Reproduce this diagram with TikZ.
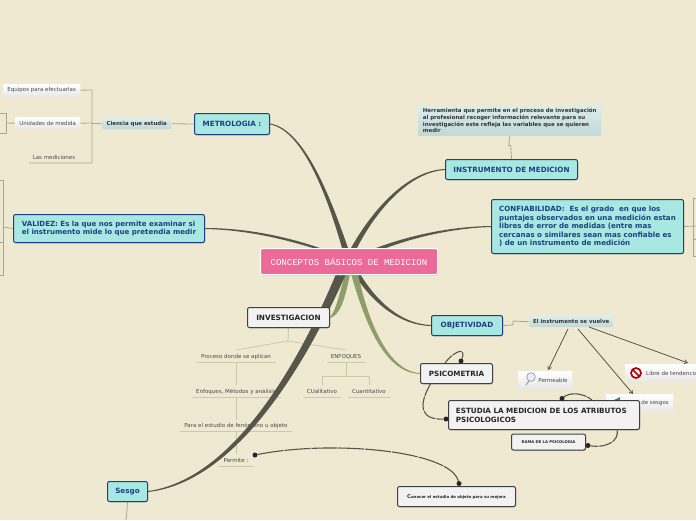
\documentclass[tikz,border=0pt]{standalone}
\usepackage{fontspec}
\setmainfont{DejaVu Sans}
\newfontfamily\monof{Liberation Mono}
\usetikzlibrary{arrows.meta,shadows}
\pgfdeclarelayer{bglayer}
\pgfdeclarelayer{treelayer}
\pgfdeclarelayer{branchlayer}
\pgfsetlayers{bglayer,treelayer,branchlayer,main}
\definecolor{bg}{HTML}{F0E9D2}
\definecolor{teal}{HTML}{A8E8E2}
\definecolor{navy}{HTML}{1E3F80}
\definecolor{pinkr}{HTML}{EC6A98}
\definecolor{branch}{HTML}{57564A}
\definecolor{ogreen}{HTML}{8D9E68}
\definecolor{lgreen}{HTML}{C8CBA6}
\definecolor{lgrey}{HTML}{A9A594}
\definecolor{paleb}{HTML}{CDE6E4}
\definecolor{ltxt}{HTML}{484848}
\tikzset{x=1pt,y=-1pt,
 box/.style={draw,rounded corners=2pt,line width=1pt,anchor=north west,inner sep=0pt,
   drop shadow={shadow xshift=0.6pt,shadow yshift=-0.8pt,fill=black!45,opacity=.6}},
 mainbox/.style={box,draw=navy,fill=teal,text=navy,font=\bfseries\fontsize{7.2}{9}\selectfont,align=left},
 subbox/.style={box,draw=black!75,fill=black!5,text=black!85,font=\bfseries\fontsize{7.2}{8.9}\selectfont,align=left},
 pale/.style={anchor=north west,inner sep=0pt,top color=paleb!70!white,bottom color=paleb!94!black,rounded corners=1pt,text=black!80,font=\bfseries\fontsize{5.45}{6.7}\selectfont,align=left},
 leaf/.style={anchor=center,inner sep=0pt,text=ltxt,font=\fontsize{5.5}{6.5}\selectfont},
 white leaf/.style={anchor=north west,inner sep=0pt,top color=white,bottom color=black!9,text=ltxt,font=\fontsize{5.5}{6.5}\selectfont},
 thin line/.style={draw=lgrey,line width=.8pt},
 green line/.style={draw=lgreen,line width=.8pt},
 under/.style={draw=lgreen,line width=.7pt},
 rel/.style={draw=branch,line width=1.1pt,dash pattern=on 26pt off 1pt},
 dot/.style={circle,fill=black!85,inner sep=0pt,minimum size=5pt},
 arr/.style={draw=branch,line width=.8pt,-{Straight Barb[length=3pt,width=4pt]}},
}
\begin{document}
\begin{tikzpicture}
\begin{pgfonlayer}{bglayer}
\fill[bg] (0,0) rectangle (696,520);
\end{pgfonlayer}
\useasboundingbox (0,0) rectangle (696,520);
% nodes
\node[box,draw=white,fill=pinkr,text=white,font=\monof\fontsize{9}{10}\selectfont,minimum width=177pt,minimum height=26pt] (root) at (260,248) {CONCEPTOS BÁSICOS DE MEDICION};
\node[mainbox,minimum width=75pt,minimum height=21pt,align=center] (metro) at (194,113) {METROLOGIA :};
\node[mainbox,minimum width=191pt,minimum height=28pt,font=\bfseries\fontsize{7.05}{8.2}\selectfont] (valid) at (13,214) {VALIDEZ: Es la que nos permite examinar si\\el instrumento mide lo que pretendia medir};
\node[mainbox,minimum width=132pt,minimum height=20pt,align=center] (instr) at (445,159) {INSTRUMENTO DE MEDICION};
\node[mainbox,minimum width=192pt,minimum height=54pt,font=\bfseries\fontsize{7.1}{8.6}\selectfont] (conf) at (491,199) {CONFIABILIDAD:\ \ Es el grado\ \ en que los\\puntajes observados en una medición estan\\libres de error de medidas (entre mas\\cercanas o similares sean mas confiable es\\) de un instrumento de medición};
\node[mainbox,minimum width=71pt,minimum height=20pt,align=center] (objet) at (431,315) {OBJETIVIDAD};
\node[subbox,minimum width=82pt,minimum height=20pt,align=center,font=\bfseries\fontsize{7.3}{9}\selectfont] (inves) at (247,307) {INVESTIGACION};
\node[subbox,minimum width=72pt,minimum height=20pt,align=center] (psico) at (420,363) {PSICOMETRIA};
\node[mainbox,minimum width=40pt,minimum height=20pt,align=center] (sesgo) at (107,481) {Sesgo};
\node[pale,minimum width=183pt,minimum height=31pt] (herr) at (418,105) {Herramienta que permite en el proceso de investigación\\al profesional recoger información relevante para su\\investigación este refleja las variables que se quieren\\medir\hspace*{152pt}};
\node[pale,minimum width=69pt,minimum height=11pt,align=center] (cien) at (102,118) {Ciencia que estudia};
\node[pale,minimum width=84pt,minimum height=11pt,align=center] (elin) at (529,316) {El instrumento se vuelve};
\node[white leaf,minimum width=77pt,minimum height=12pt,align=center] (equi) at (3,84) {\raisebox{-1pt}{Equipos para efectuarlas}};
\node[white leaf,minimum width=65pt,minimum height=12pt,align=center] (unid) at (15,117) {\raisebox{-.8pt}{Unidades de medida}};
\node[leaf] (medi) at (54,157.6) {Las mediciones};
\coordinate (medir) at (92,163);
% small cut-off boxes
\draw[thin line] (0,113) -- (6,113) -- (6,133) -- (0,133);
\draw[thin line] (6,123) -- (unid.west);
\draw[thin line] (0,180) -- (3,180) -- (3,275) -- (0,275);
\draw[thin line] (0,242.5) -- (3,242.5);
\draw[thin line] (3,227) -- (valid.west);
\draw[thin line] (696,198) -- (693.5,198) -- (693.5,256) -- (696,256);
\draw[thin line] (693.5,239) -- (696,239);
\draw[thin line] (conf.east) -- (696,226);
% tapered branches
\begin{pgfonlayer}{branchlayer}
\fill[branch] (348,248) .. controls (333,205) and (306,129) .. ([yshift=.5pt]metro.east) -- ([yshift=-.5pt]metro.east) .. controls (305,130.5) and (330,206) .. (342,248) -- cycle;
\fill[branch] (320,248) .. controls (290,238) and (250,228) .. ([yshift=.5pt]valid.east) -- ([yshift=-.5pt]valid.east) .. controls (250,230) and (288,240.5) .. (313,248) -- cycle;
\fill[branch] (357,248) .. controls (373,216) and (407,172) .. ([yshift=-.5pt]instr.west) -- ([yshift=.5pt]instr.west) .. controls (405,170.5) and (370,214) .. (351,248) -- cycle;
\fill[branch] (386,248) .. controls (420,235.5) and (457,228) .. ([yshift=-.5pt]conf.west) -- ([yshift=.5pt]conf.west) .. controls (455,226.5) and (415,233.5) .. (376,248) -- cycle;
\fill[branch] (360,274) .. controls (376,300) and (400,324) .. ([yshift=.5pt]objet.west) -- ([yshift=-.5pt]objet.west) .. controls (399,325.5) and (372,302) .. (354,274) -- cycle;
\fill[ogreen] (350,274) .. controls (345,300) and (340,315) .. ([yshift=-.5pt]inves.east) -- ([yshift=.5pt]inves.east) .. controls (335,312) and (338,300) .. (345,274) -- cycle;
\fill[ogreen] (358,274) .. controls (366,312) and (385,371) .. ([yshift=.4pt]psico.west) -- ([yshift=-.4pt]psico.west) .. controls (382,373) and (363,315) .. (351,274) -- cycle;
\fill[branch] (346,274) .. controls (320,332) and (248,481) .. ([yshift=-.5pt]sesgo.east) -- ([yshift=.5pt]sesgo.east) .. controls (245,478) and (313,329) .. (336,274) -- cycle;
\end{pgfonlayer}
% connectors
\draw[thin line] (metro.west) -- (cien.east);
\draw[thin line] (herr.south) -- ++(-1,9) -- ++(2,0) -- (instr.north);
\draw[thin line] (cien.west) -- (92,123.5);
\draw[thin line] (equi.east) -- (92,90) -- (92,163) -- (medir) -- (29,163);
\draw[thin line] (unid.east) -- (92,123);
\draw[thin line] (objet.east) -- (513,325) -- (513,321) -- (elin.west);
\draw[thin line] (sesgo.south) -- (127,510) -- (126,520);
% investigation tree
\begin{pgfonlayer}{treelayer}
\coordinate (ij) at (288,341);
\node[leaf] (n1) at (236,356.8) {Proceso donde se aplican};
\node[leaf] (n2) at (236,391.8) {Enfoques, Métodos y análisis};
\node[leaf] (n3) at (236,425.8) {Para el estudio de fenómeno u objeto};
\node[leaf] (n4) at (236,460.8) {Permite :};
\node[leaf] (e0) at (346,356.8) {ENFOQUES};
\node[leaf] (e1) at (322,391.8) {CUalitativo};
\node[leaf] (e2) at (369,391.8) {Cuantitativo};
\draw[green line] (inves.south) -- (ij) -- (236,350);
\draw[green line] (ij) -- (346,350);
\draw[green line] (236,362) -- (236,385);
\draw[green line] (236,397) -- (236,420);
\draw[green line] (236,431) -- (236,454);
\draw[green line] (346,362) -- (346,376);
\draw[green line] (322,385) -- (322,376) -- (369,376) -- (369,385);
\draw[under] (197,362) -- (276,362);
\draw[under] (192,397) -- (281,397);
\draw[under] (180,431) -- (292,431);
\draw[under] (219,466) -- (254,466);
\draw[under] (327,362) -- (366,362);
\draw[under] (303,397) -- (341,397);
\draw[under] (348,397) -- (391,397);
\end{pgfonlayer}
% leaf nodes with icons
\node[white leaf,minimum width=54pt,minimum height=17pt] (perm) at (518,371) {};
\node[leaf] at (553,380) {Permeable};
\draw[black!35,line width=1.2pt] (526,385) -- (529,381);
\draw[draw=black!40,fill=blue!8,line width=.7pt] (531,377) circle (4.3pt);
\node[white leaf,minimum width=71pt,minimum height=17pt] (libr) at (625,364) {};
\fill[white,draw=red!70!black,line width=1.7pt] (636,373) circle (5pt);
\draw[red!70!black,line width=1.7pt] (632.5,369.5) -- (639.5,376.5);
\node[leaf,anchor=west] at (646,373) {Libre de tendencia};
\node[white leaf,minimum width=67pt,minimum height=17pt] (libs) at (606,394) {};
\fill[green!50!black!80] (612,401) -- (620,397) -- (620,402) -- cycle;
\node[leaf,anchor=east] at (669,403) {de sesgos};
% arrows
\draw[arr] (568,329) -- (548,370);
\draw[arr] (578,329) -- (633,394);
\draw[arr] (589,327) -- (688,363);
\draw[rel] (562,398.5) .. controls (568,392) and (582,392) .. (592,400);
% sub boxes bottom
\node[subbox,minimum width=191pt,minimum height=29pt] (estu) at (448,400) {ESTUDIA LA MEDICION DE LOS ATRIBUTOS\\PSICOLOGICOS\hspace*{116pt}};
\node[subbox,minimum width=74pt,minimum height=16pt,align=center,font=\bfseries\fontsize{3.8}{5}\selectfont] (rama) at (511,433.5) {RAMA DE LA PSICOLOGIA};
\node[subbox,minimum width=118pt,minimum height=20pt,align=center,font=\bfseries\fontsize{3.9}{5}\selectfont] (cono) at (397,486) {{\fontsize{5.2}{5}\selectfont C}onocer el estudio de objeto para su mejora};
% dots + relations
\node[dot] (d0) at (562,398.5) {};
\node[dot] (d1) at (461,361) {};
\node[dot] (d2) at (446,419) {};
\node[dot] (d3) at (588,445.5) {};
\node[dot] (d4) at (459,483.5) {};
\node[dot] (d5) at (255,455) {};
\draw[rel,dash pattern=on 10pt off 1pt] (445,363) .. controls (452,353) and (467,345) .. (d1);
\draw[rel,dash pattern=on 14pt off 1pt] (431,383) .. controls (418,405) and (420,420) .. (d2);
\draw[rel,dash pattern=on 14pt off 1pt] (617,429) .. controls (620,442) and (605,448) .. (d3);
\draw[rel] (d5) .. controls (330,440) and (450,450) .. (d4);
\end{tikzpicture}
\end{document}
